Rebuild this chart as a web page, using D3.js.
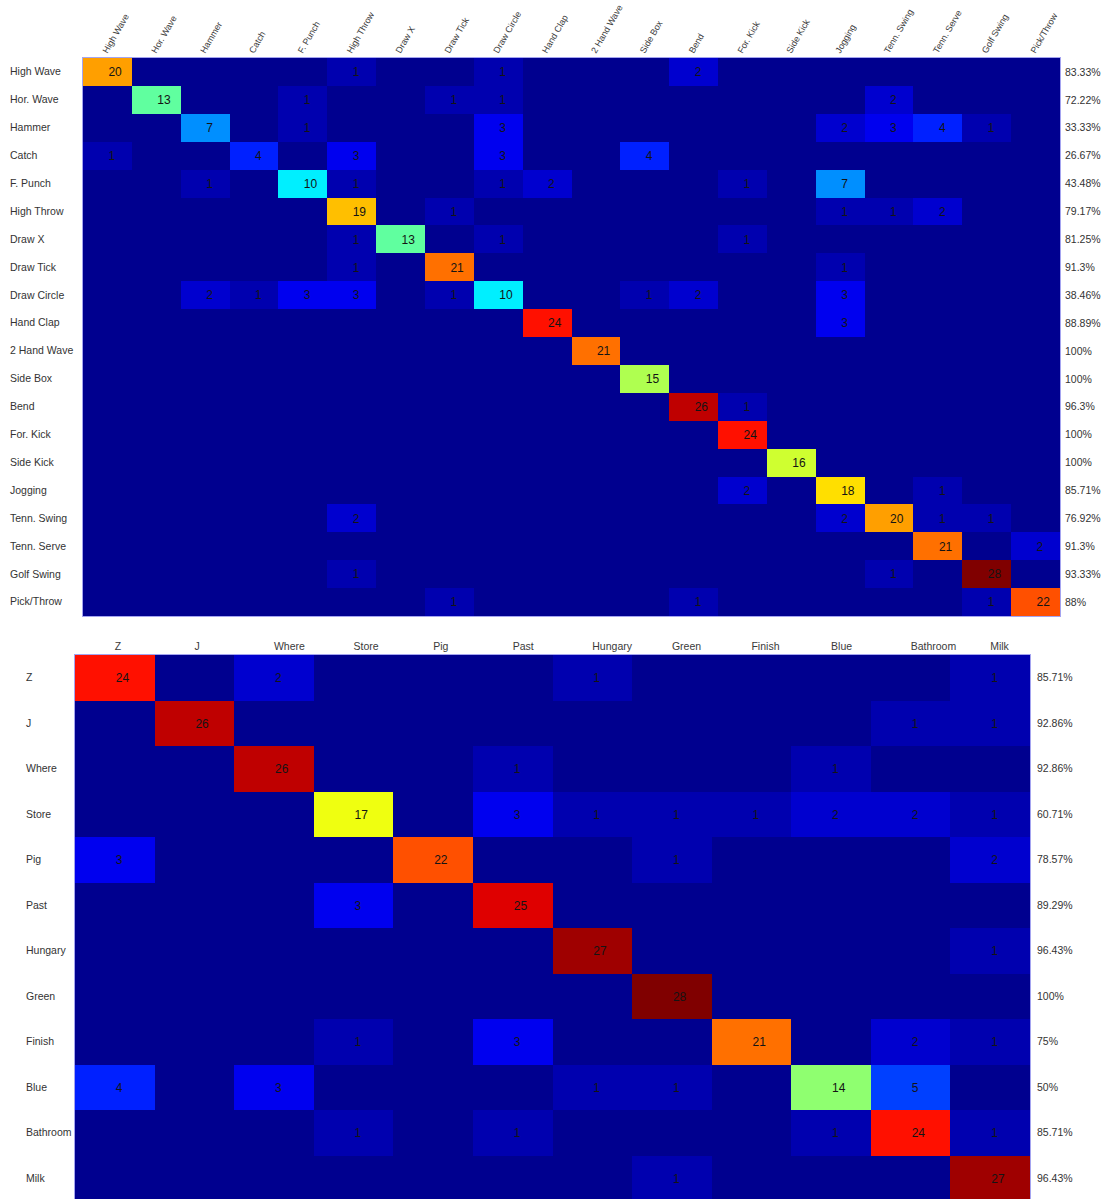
<!DOCTYPE html>
<html>
<head>
<meta charset="utf-8">
<script src="https://cdn.jsdelivr.net/npm/d3@7"></script>
<style>
  body { margin: 0; background: #fff; }
  svg { display: block; }
  text { font-family: Arial, 'Liberation Sans', sans-serif; }
</style>
</head>
<body>
<div id="chart"></div>
<script>
'use strict'

// gesture set (top matrix)
var gestures = ['High Wave', 'Hor. Wave', 'Hammer', 'Catch', 'F. Punch', 'High Throw',
  'Draw X', 'Draw Tick', 'Draw Circle', 'Hand Clap', '2 Hand Wave', 'Side Box', 'Bend',
  'For. Kick', 'Side Kick', 'Jogging', 'Tenn. Swing', 'Tenn. Serve', 'Golf Swing', 'Pick/Throw']

var gestureCounts = [
  [20, 0, 0, 0, 0, 1, 0, 0, 1, 0, 0, 0, 2, 0, 0, 0, 0, 0, 0, 0],
  [0, 13, 0, 0, 1, 0, 0, 1, 1, 0, 0, 0, 0, 0, 0, 0, 2, 0, 0, 0],
  [0, 0, 7, 0, 1, 0, 0, 0, 3, 0, 0, 0, 0, 0, 0, 2, 3, 4, 1, 0],
  [1, 0, 0, 4, 0, 3, 0, 0, 3, 0, 0, 4, 0, 0, 0, 0, 0, 0, 0, 0],
  [0, 0, 1, 0, 10, 1, 0, 0, 1, 2, 0, 0, 0, 1, 0, 7, 0, 0, 0, 0],
  [0, 0, 0, 0, 0, 19, 0, 1, 0, 0, 0, 0, 0, 0, 0, 1, 1, 2, 0, 0],
  [0, 0, 0, 0, 0, 1, 13, 0, 1, 0, 0, 0, 0, 1, 0, 0, 0, 0, 0, 0],
  [0, 0, 0, 0, 0, 1, 0, 21, 0, 0, 0, 0, 0, 0, 0, 1, 0, 0, 0, 0],
  [0, 0, 2, 1, 3, 3, 0, 1, 10, 0, 0, 1, 2, 0, 0, 3, 0, 0, 0, 0],
  [0, 0, 0, 0, 0, 0, 0, 0, 0, 24, 0, 0, 0, 0, 0, 3, 0, 0, 0, 0],
  [0, 0, 0, 0, 0, 0, 0, 0, 0, 0, 21, 0, 0, 0, 0, 0, 0, 0, 0, 0],
  [0, 0, 0, 0, 0, 0, 0, 0, 0, 0, 0, 15, 0, 0, 0, 0, 0, 0, 0, 0],
  [0, 0, 0, 0, 0, 0, 0, 0, 0, 0, 0, 0, 26, 1, 0, 0, 0, 0, 0, 0],
  [0, 0, 0, 0, 0, 0, 0, 0, 0, 0, 0, 0, 0, 24, 0, 0, 0, 0, 0, 0],
  [0, 0, 0, 0, 0, 0, 0, 0, 0, 0, 0, 0, 0, 0, 16, 0, 0, 0, 0, 0],
  [0, 0, 0, 0, 0, 0, 0, 0, 0, 0, 0, 0, 0, 2, 0, 18, 0, 1, 0, 0],
  [0, 0, 0, 0, 0, 2, 0, 0, 0, 0, 0, 0, 0, 0, 0, 2, 20, 1, 1, 0],
  [0, 0, 0, 0, 0, 0, 0, 0, 0, 0, 0, 0, 0, 0, 0, 0, 0, 21, 0, 2],
  [0, 0, 0, 0, 0, 1, 0, 0, 0, 0, 0, 0, 0, 0, 0, 0, 1, 0, 28, 0],
  [0, 0, 0, 0, 0, 0, 0, 1, 0, 0, 0, 0, 1, 0, 0, 0, 0, 0, 1, 22]
]

// word set (bottom matrix)
var words = ['Z', 'J', 'Where', 'Store', 'Pig', 'Past', 'Hungary', 'Green', 'Finish',
  'Blue', 'Bathroom', 'Milk']

var wordCounts = [
  [24, 0, 2, 0, 0, 0, 1, 0, 0, 0, 0, 1],
  [0, 26, 0, 0, 0, 0, 0, 0, 0, 0, 1, 1],
  [0, 0, 26, 0, 0, 1, 0, 0, 0, 1, 0, 0],
  [0, 0, 0, 17, 0, 3, 1, 1, 1, 2, 2, 1],
  [3, 0, 0, 0, 22, 0, 0, 1, 0, 0, 0, 2],
  [0, 0, 0, 3, 0, 25, 0, 0, 0, 0, 0, 0],
  [0, 0, 0, 0, 0, 0, 27, 0, 0, 0, 0, 1],
  [0, 0, 0, 0, 0, 0, 0, 28, 0, 0, 0, 0],
  [0, 0, 0, 1, 0, 3, 0, 0, 21, 0, 2, 1],
  [4, 0, 3, 0, 0, 0, 1, 1, 0, 14, 5, 0],
  [0, 0, 0, 1, 0, 1, 0, 0, 0, 1, 24, 1],
  [0, 0, 0, 0, 0, 0, 0, 1, 0, 0, 0, 27]
]

// matlab style jet colormap
function jetColors(n) {
  var m = Math.ceil(n / 4)
  var u = []
  var i
  for (i = 1; i <= m; i++) u.push(i / m)
  for (i = 1; i < m; i++) u.push(1)
  for (i = m; i >= 1; i--) u.push(i / m)
  var off = Math.ceil(m / 2) - (n % 4 === 1 ? 1 : 0)
  var cols = d3.range(n).map(function() { return [0, 0, 0] })
  u.forEach(function(v, k) {
    var g = off + k
    if (g < n) cols[g][1] = v
    if (g + m < n) cols[g + m][0] = v
    if (g - m >= 0) cols[g - m][2] = v
  })
  return cols.map(function(c) {
    return d3.rgb(c[0] * 255, c[1] * 255, c[2] * 255).formatHex()
  })
}

var jet = jetColors(64)

var svg = d3.select('#chart')
  .append('svg')
  .attr('width', 1106)
  .attr('height', 1199)

function pct(row, i) {
  var v = 100 * row[i] / d3.sum(row)
  return +v.toFixed(2) + '%'
}

function drawMatrix(opts) {
  var labels = opts.labels
  var data = opts.data
  var x = d3.scaleBand().domain(labels).range([0, opts.width])
  var y = d3.scaleBand().domain(labels).range([0, opts.height])
  var color = d3.scaleQuantize()
    .domain([0, d3.max(data, function(r) { return d3.max(r) })])
    .range(jet)

  // pixel snapped band edges so neighbouring cells share a border
  function x0(d) { return Math.round(x(d.col)) }
  function x1(d) { return d.j === labels.length - 1 ? Math.round(opts.width) : Math.round(x(labels[d.j + 1])) }
  function y0(d) { return Math.round(y(d.row)) }
  function y1(d) { return d.i === labels.length - 1 ? Math.round(opts.height) : Math.round(y(labels[d.i + 1])) }

  var g = svg.append('g')
    .attr('transform', 'translate(' + opts.left + ',' + opts.top + ')')

  var cells = []
  data.forEach(function(row, i) {
    row.forEach(function(v, j) {
      cells.push({ i: i, j: j, row: labels[i], col: labels[j], value: v })
    })
  })

  g.append('g')
    .attr('shape-rendering', 'crispEdges')
    .selectAll('rect')
    .data(cells)
    .enter()
    .append('rect')
    .attr('x', x0)
    .attr('y', y0)
    .attr('width', function(d) { return x1(d) - x0(d) })
    .attr('height', function(d) { return y1(d) - y0(d) })
    .attr('fill', function(d) { return color(d.value) })

  g.append('rect')
    .attr('x', -0.5)
    .attr('y', -0.5)
    .attr('width', Math.round(opts.width) + 1)
    .attr('height', Math.round(opts.height) + 1)
    .attr('fill', 'none')
    .attr('stroke', '#a4a4f0')
    .attr('stroke-width', 1)

  g.selectAll('text.val')
    .data(cells.filter(function(d) { return d.value > 0 }))
    .enter()
    .append('text')
    .attr('class', 'val')
    .attr('x', function(d) { return x(d.col) + x.bandwidth() / 2 + 1 })
    .attr('y', function(d) { return y(d.row) + y.bandwidth() / 2 })
    .attr('dy', '0.36em')
    .attr('font-size', opts.valueSize + 'px')
    .attr('fill', '#141414')
    .text(function(d) { return d.value })

  // column labels
  var top = g.append('g')
    .call(d3.axisTop(x).tickSize(0).tickPadding(opts.colPad))
  top.select('.domain').remove()
  top.selectAll('text')
    .attr('text-anchor', 'start')
    .attr('font-family', null)
    .attr('font-size', opts.colSize + 'px')
    .attr('fill', '#3a3a3a')
  if (opts.rotate) {
    top.selectAll('text')
      .attr('x', 0)
      .attr('y', 0)
      .attr('dy', 0)
      .attr('transform', 'translate(0,-' + opts.colPad + ') rotate(-' + opts.rotate + ')')
  }

  // row labels
  var left = g.append('g')
    .call(d3.axisLeft(y).tickSize(0))
  left.select('.domain').remove()
  left.selectAll('text')
    .attr('text-anchor', 'start')
    .attr('x', opts.rowLabelX - opts.left)
    .attr('font-family', null)
    .attr('font-size', opts.rowSize + 'px')
    .attr('fill', '#333')

  // per-class accuracy
  g.selectAll('text.acc')
    .data(data)
    .enter()
    .append('text')
    .attr('class', 'acc')
    .attr('x', opts.width + opts.accPad)
    .attr('y', function(d, i) { return y(labels[i]) + y.bandwidth() / 2 })
    .attr('dy', '0.35em')
    .attr('font-size', opts.rowSize + 'px')
    .attr('fill', '#333')
    .text(function(d, i) { return pct(d, i) })
}

drawMatrix({
  labels: gestures,
  data: gestureCounts,
  left: 83,
  top: 58,
  width: 977,
  height: 558,
  valueSize: 12,
  colSize: 9,
  colPad: 4,
  rotate: 60,
  rowSize: 10.5,
  rowLabelX: 10,
  accPad: 5
})

drawMatrix({
  labels: words,
  data: wordCounts,
  left: 75,
  top: 655,
  width: 955,
  height: 546,
  valueSize: 12,
  colSize: 10.5,
  colPad: 5,
  rotate: 0,
  rowSize: 10.5,
  rowLabelX: 26,
  accPad: 7
})
</script>
</body>
</html>
